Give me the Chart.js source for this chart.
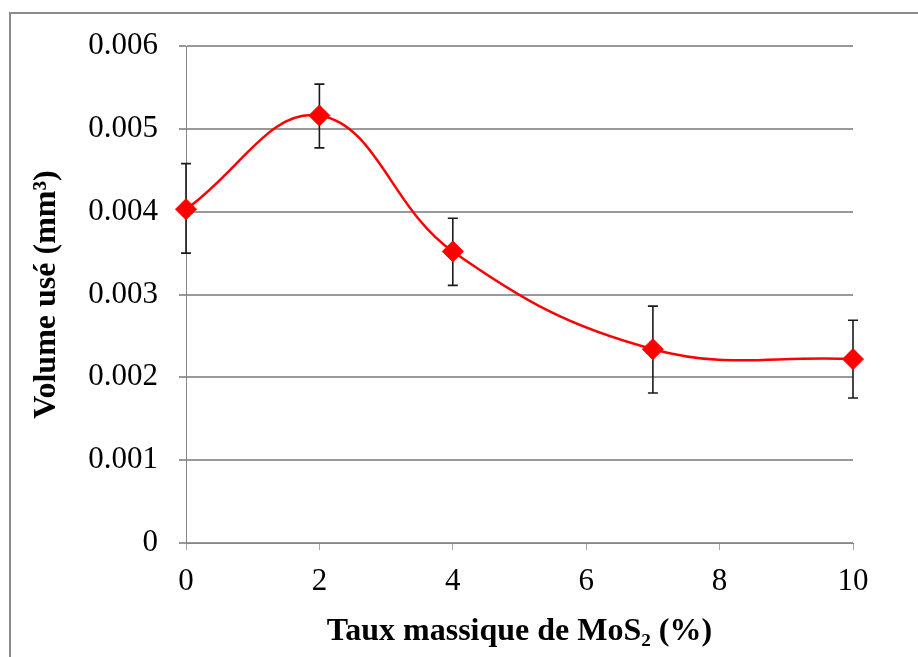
<!DOCTYPE html>
<html>
<head>
<meta charset="utf-8">
<script src="https://cdn.jsdelivr.net/npm/chart.js@4.4.1/dist/chart.umd.min.js"></script>
<style>
  html, body { margin: 0; padding: 0; background: #fff; }
  #wrap { width: 918px; height: 657px; }
</style>
</head>
<body>
<div id="wrap"><canvas id="usure" width="918" height="657"></canvas></div>
<script>
// Taux de MoS2 (%) et volume usé (mm3), avec bornes des barres d'erreur
var tauxMoS2 = [0, 2, 4, 7, 10];
var volumeUse = [0.00403, 0.00516, 0.00352, 0.00234, 0.00222];
var erreurBas = [0.00350, 0.00477, 0.00311, 0.00181, 0.00175];
var erreurHaut = [0.00458, 0.00554, 0.00392, 0.00286, 0.00269];

var xTickLabels = ['0', '2', '4', '6', '8', '10'];
var yTickLabels = ['0', '0.001', '0.002', '0.003', '0.004', '0.005', '0.006'];

var points = tauxMoS2.map(function (x, i) { return { x: x, y: volumeUse[i] }; });

// cadre gris autour du graphique
var cadre = {
  id: 'cadre',
  beforeDraw: function (chart) {
    var ctx = chart.ctx;
    ctx.save();
    ctx.strokeStyle = '#8c8c8c';
    ctx.lineWidth = 2;
    ctx.strokeRect(10, 13, chart.width + 20, chart.height + 20);
    ctx.restore();
  }
};

// barres d'erreur, dessinées sous les marqueurs
var barresErreur = {
  id: 'barresErreur',
  beforeDatasetsDraw: function (chart) {
    var ctx = chart.ctx;
    var xs = chart.scales.x, ys = chart.scales.y;
    ctx.save();
    ctx.strokeStyle = '#1a1a1a';
    ctx.lineWidth = 1.6;
    tauxMoS2.forEach(function (t, i) {
      var px = xs.getPixelForValue(t);
      var yb = ys.getPixelForValue(erreurBas[i]);
      var yh = ys.getPixelForValue(erreurHaut[i]);
      ctx.beginPath();
      ctx.moveTo(px, yh); ctx.lineTo(px, yb);
      ctx.moveTo(px - 5, yh); ctx.lineTo(px + 5, yh);
      ctx.moveTo(px - 5, yb); ctx.lineTo(px + 5, yb);
      ctx.stroke();
    });
    ctx.restore();
  }
};

var ctx = document.getElementById('usure').getContext('2d');
window.chartUsure = new Chart(ctx, {
  type: 'line',
  data: {
    datasets: [{
      label: 'Volume usé',
      data: points,
      borderColor: '#ff0000',
      backgroundColor: '#ff0000',
      borderWidth: 2.5,
      tension: 0.4,
      pointStyle: 'rectRot',
      pointRadius: 10.5,
      pointBorderWidth: 1,
      pointBackgroundColor: '#ff0000',
      pointBorderColor: '#ff0000',
      clip: false
    }]
  },
  plugins: [cadre, barresErreur],
  options: {
    responsive: false,
    animation: false,
    layout: { padding: { top: 46, right: 65, left: 0, bottom: 0 } },
    plugins: {
      legend: { display: false },
      tooltip: { enabled: false }
    },
    scales: {
      x: {
        type: 'linear',
        min: 0,
        max: 10,
        afterFit: function (scale) { scale.height = 114; },
        ticks: {
          stepSize: 2,
          color: '#000',
          padding: 13,
          font: { family: 'Liberation Serif', size: 31 },
          callback: function (value, index) { return xTickLabels[index]; }
        },
        grid: { drawOnChartArea: false, tickLength: 7, color: '#a6a6a6', lineWidth: 1 },
        border: { display: true, color: '#868686', width: 1 },
        title: {
          display: true,
          text: 'Taux massique de MoS₂ (%)',
          color: '#000',
          padding: { top: 0, bottom: 6 },
          font: { family: 'Liberation Serif', size: 32, weight: 'bold' }
        }
      },
      y: {
        min: 0,
        max: 0.006,
        afterFit: function (scale) { scale.width = 186; },
        ticks: {
          stepSize: 0.001,
          color: '#000',
          padding: 21,
          font: { family: 'Liberation Serif', size: 31 },
          callback: function (value, index) { return yTickLabels[index]; }
        },
        grid: { color: '#999999', lineWidth: 2, tickLength: 7 },
        border: { display: true, color: '#868686', width: 1 },
        title: {
          display: true,
          text: 'Volume usé (mm³)',
          color: '#000',
          padding: { top: 28, bottom: 0 },
          font: { family: 'Liberation Serif', size: 32, weight: 'bold' }
        }
      }
    }
  }
});
</script>
</body>
</html>
